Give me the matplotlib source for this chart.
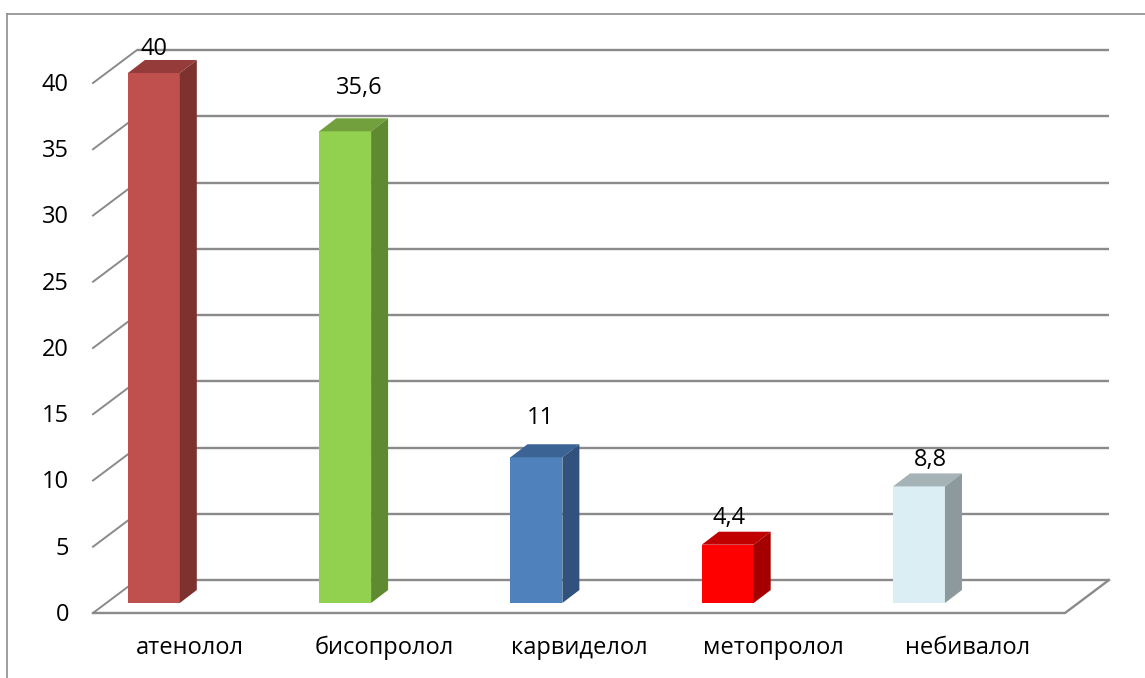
import numpy as np
import matplotlib
matplotlib.use('Agg')
import matplotlib.pyplot as plt
from matplotlib.patches import Polygon, Rectangle
from matplotlib.lines import Line2D

plt.rcParams['font.family'] = ['Open Sans', 'DejaVu Sans']

# data
drugs = ['атенолол', 'бисопролол', 'карвиделол', 'метопролол', 'небивалол']
values = [40, 35.6, 11, 4.4, 8.8]
value_labels = ['40', '35,6', '11', '4,4', '8,8']
y_ticks = [0, 5, 10, 15, 20, 25, 30, 35, 40]

# face colours: front, top, side
front_colors = ['#C0504D', '#92D050', '#4F81BD', '#FF0000', '#DBEEF3']
top_colors = ['#953B39', '#71A03C', '#3B6393', '#C00000', '#A6B3B6']
side_colors = ['#7D3230', '#5F8A31', '#31527C', '#A50000', '#8D9A9D']

# label nudges (x, y) in points
label_offsets = [(0, 8), (10, 22), (3, 19), (1, 10), (8, 10)]

# 3d box geometry (x in category slots, y in value units)
DX, DY = 0.2263, 2.49          # wall depth
BAR_X0, BAR_STEP = 0.313, 0.984
BAR_W = 0.267
BAR_BASE = 0.755
SIDE_DX, SIDE_DY = 0.0875, 0.98
GRID = '#8a8a8a'
FS = 17

fig = plt.figure(figsize=(11.45, 6.78), dpi=100)
ax = fig.add_axes([0, 0, 1, 1])
ax.set_xlim(-0.4784, 5.4115)
ax.set_ylim(-4.906, 46.264)
ax.axis('off')

n = len(drugs)

# back wall gridlines and left wall diagonals
for v in y_ticks:
    ax.plot([DX, n + DX], [v + DY, v + DY], color=GRID, lw=1.7, zorder=1,
            solid_capstyle='butt')
    ax.plot([0, DX], [v, v + DY], color=GRID, lw=1.4, zorder=1)
    ax.text(-0.1235, v - 0.15, str(v), ha='right', va='center', fontsize=FS)

# floor outline
ax.plot([0, n, n + DX], [0, 0, DY], color=GRID, lw=1.7, zorder=1,
        solid_joinstyle='miter')

# bars
for i, v in enumerate(values):
    x0 = BAR_X0 + BAR_STEP * i - BAR_W / 2
    x1 = x0 + BAR_W
    top = BAR_BASE + v
    ax.add_patch(Rectangle((x0, BAR_BASE), BAR_W, v, fc=front_colors[i],
                           ec='none', zorder=3))
    ax.add_patch(Polygon([(x0, top), (x1, top), (x1 + SIDE_DX, top + SIDE_DY),
                          (x0 + SIDE_DX, top + SIDE_DY)],
                         closed=True, fc=top_colors[i], ec='none', zorder=3))
    ax.add_patch(Polygon([(x1, BAR_BASE), (x1, top), (x1 + SIDE_DX, top + SIDE_DY),
                          (x1 + SIDE_DX, BAR_BASE + SIDE_DY)],
                         closed=True, fc=side_colors[i], ec='none', zorder=3))
    ax.annotate(value_labels[i], (x0 + BAR_W / 2, top + SIDE_DY),
                xytext=label_offsets[i], textcoords='offset points',
                ha='center', va='center', fontsize=FS, zorder=4)
    ax.text(i + 0.5, -2.64, drugs[i], ha='center', va='center', fontsize=FS)

# chart frame
fig.add_artist(Line2D([7 / 1145, 1], [1 - 14 / 678, 1 - 14 / 678],
                      color='#8c8c8c', lw=1.2))
fig.add_artist(Line2D([7 / 1145, 7 / 1145], [0, 1 - 14 / 678],
                      color='#8c8c8c', lw=1.2))

fig.savefig('out.png', dpi=100, facecolor='white')
